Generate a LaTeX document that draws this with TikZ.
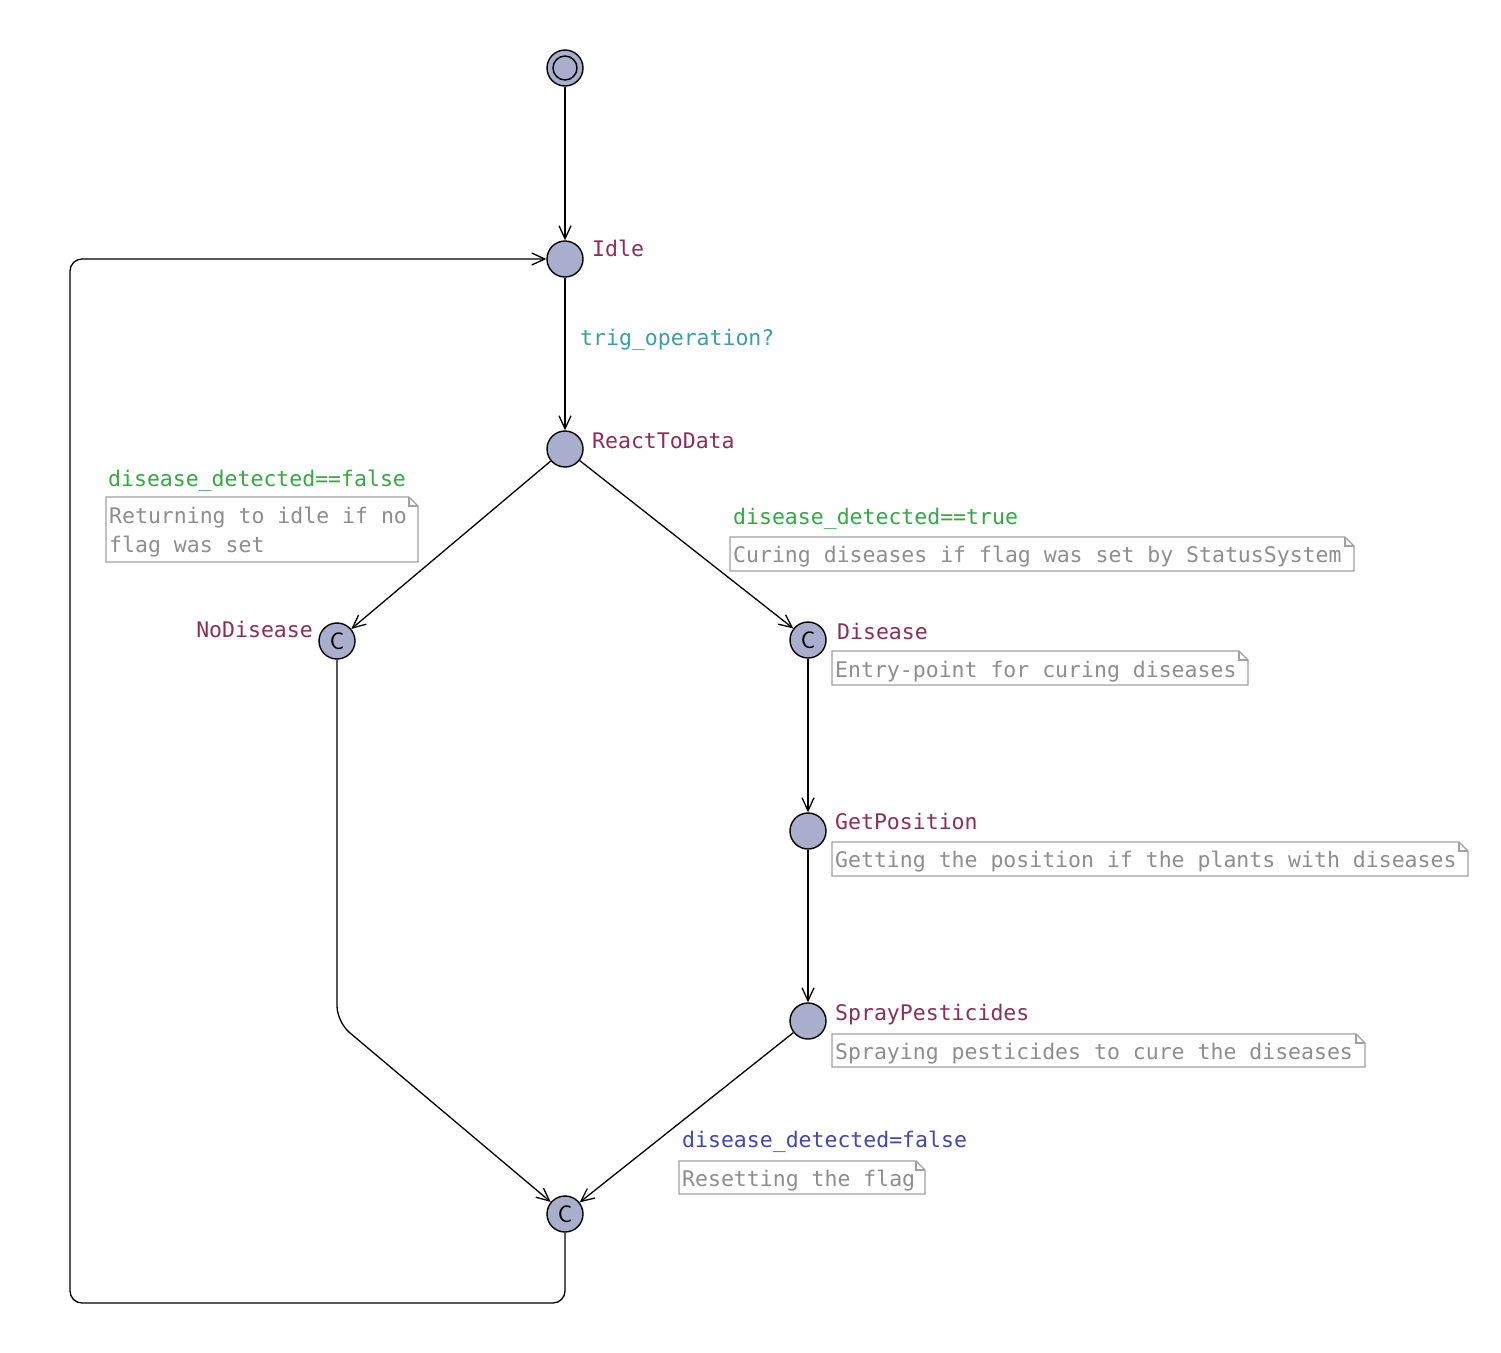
\documentclass[tikz,border=0pt]{standalone}
\usepackage{fontspec}
\newfontfamily\mono{DejaVu Sans Mono}
\usetikzlibrary{arrows.meta,calc}
\definecolor{locname}{HTML}{8C2E5A}
\definecolor{syncc}{HTML}{3A9FA8}
\definecolor{guardc}{HTML}{35A844}
\definecolor{assignc}{HTML}{4545B5}
\definecolor{notetxt}{HTML}{8E8E8E}
\definecolor{noteline}{HTML}{A0A0A0}
\definecolor{statefill}{HTML}{A8AECB}
\tikzset{
  x=1pt,y=1pt,
  state/.style={circle,draw=black,line width=1.4pt,fill=statefill,minimum size=36pt,inner sep=0pt},
  commit/.style={state,font={\fontsize{24}{24}\selectfont\sffamily}},
  lbl/.style={inner sep=0pt,anchor=base west,font={\mono\fontsize{21.5}{29}\selectfont}},
  lname/.style={lbl,text=locname},
  lsync/.style={lbl,text=syncc},
  lguard/.style={lbl,text=guardc},
  lassign/.style={lbl,text=assignc},
  ntext/.style={lbl,text=notetxt},
  edge/.style={line width=1.3pt,-{Straight Barb[length=13pt,width=12pt,line width=1.3pt]}},
  nbox/.style={draw=noteline,line width=1.3pt},
}
\newcommand\mynote[4]{%
  \draw[nbox] (#1,-#4) -- (#1,-#2) -- (#3-9,-#2) -- (#3,-#2-9) -- (#3,-#4) -- cycle;
  \draw[nbox] (#3-9,-#2) -- (#3-9,-#2-9) -- (#3,-#2-9);
}
\begin{document}
\begin{tikzpicture}
\useasboundingbox[fill=white] (0,0) rectangle (1501,-1352);
% states
\node[state] (init) at (565,-68) {};
\draw[line width=1.4pt] (init.center) circle (12);
\node[state] (idle) at (565,-259) {};
\node[state] (rtd) at (565,-449) {};
\node[commit] (nod) at (337,-641) {C};
\node[commit] (dis) at (808,-640) {C};
\node[state] (gp) at (808,-831) {};
\node[state] (sp) at (808,-1021) {};
\node[commit] (fin) at (565,-1214) {C};
% names
\node[lname] (nIdle) at (592,-256) {Idle};
\node[lname] (nRtd) at (592,-448) {ReactToData};
\node[lname,anchor=base east] (nNod) at (313,-637) {NoDisease};
\node[lname] (nDis) at (837,-639) {Disease};
\node[lname] (nGp) at (835,-829) {GetPosition};
\node[lname] (nSp) at (835,-1020) {SprayPesticides};
% edges
\draw[edge] (init) -- (idle);
\draw[edge] (idle) -- (rtd);
\draw[edge] (rtd) -- (nod);
\draw[edge] (rtd) -- (dis);
\draw[edge] (dis) -- (gp);
\draw[edge] (gp) -- (sp);
\draw[edge] (sp) -- (fin);
\coordinate (k1) at (337,-1022);
\draw[edge,rounded corners=16pt] (nod) -- (k1) -- (fin);
\coordinate (b1) at (565,-1303);
\coordinate (b2) at (70,-1303);
\coordinate (b3) at (70,-259);
\draw[edge,rounded corners=12pt] (fin) -- (b1) -- (b2) -- (b3) -- (idle);
% edge labels
\node[lsync] (lt) at (580,-345) {trig\_operation?};
\node[lguard] (lg1) at (108,-486) {disease\_detected==false};
\node[lguard] (lg2) at (733,-524) {disease\_detected==true};
\node[lassign] (la) at (682,-1147) {disease\_detected=false};
% notes
\mynote{106}{497}{418}{562}
\node[ntext] (t1a) at (109,-523) {Returning to idle if no};
\node[ntext] (t1b) at (109,-552) {flag was set};
\mynote{730}{537}{1354}{571}
\node[ntext] (t2) at (733,-562) {Curing diseases if flag was set by StatusSystem};
\mynote{832}{651}{1248}{685}
\node[ntext] (t3) at (835,-677) {Entry-point for curing diseases};
\mynote{832}{842}{1468}{876}
\node[ntext] (t4) at (835,-867) {Getting the position if the plants with diseases};
\mynote{832}{1034}{1365}{1067}
\node[ntext] (t5) at (835,-1059) {Spraying pesticides to cure the diseases};
\mynote{679}{1161}{925}{1194}
\node[ntext] (t6) at (682,-1186) {Resetting the flag};
\end{tikzpicture}
\end{document}
